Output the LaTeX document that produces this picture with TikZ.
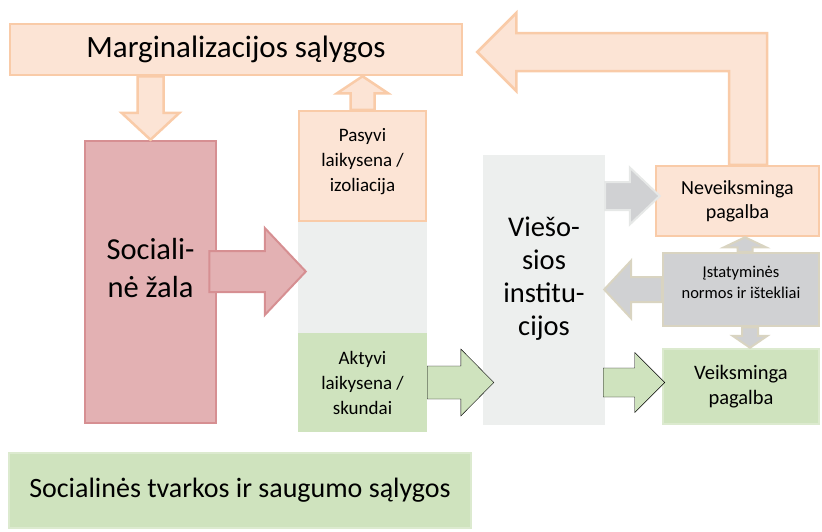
\documentclass[tikz,border=0pt]{standalone}
\usepackage{fontspec}
\setmainfont{Carlito}
\usetikzlibrary{calc}

\definecolor{peachfill}{HTML}{FCE4D5}
\definecolor{peachline}{HTML}{F9CBA8}
\definecolor{pinkfill}{HTML}{E3B1B3}
\definecolor{pinkline}{HTML}{D68F92}
\definecolor{greenfill}{HTML}{CFE3BE}
\definecolor{greenline}{HTML}{DCEACF}
\definecolor{midgrey}{HTML}{EDEFEE}
\definecolor{darkgrey}{HTML}{D0D1D3}
\definecolor{greyline}{HTML}{E6E8E7}
\definecolor{tanline}{HTML}{D9D4C1}

\tikzset{
    shaftw/.store in=\shaftw, headw/.store in=\headw, headl/.store in=\headl,
    shaftw=10pt, headw=20pt, headl=15pt,
    blockarrow/.style={to path={
        let \p1=(\tikztostart), \p2=(\tikztotarget),
            \n1={atan2(\y2-\y1,\x2-\x1)}, \n2={veclen(\x2-\x1,\y2-\y1)-\headl},
            \n3={\n1+90}, \n4={\n1-90} in
        ($(\p1)+(\n3:\shaftw)$) -- ($(\p1)+(\n1:\n2)+(\n3:\shaftw)$)
        -- ($(\p1)+(\n1:\n2)+(\n3:\headw)$) -- (\p2)
        -- ($(\p1)+(\n1:\n2)+(\n4:\headw)$) -- ($(\p1)+(\n1:\n2)+(\n4:\shaftw)$)
        -- ($(\p1)+(\n4:\shaftw)$) -- cycle}}
}

\begin{document}
\begin{tikzpicture}[x=1pt, y=-1pt,
    box/.style={rectangle, inner sep=0pt, align=center},
    peachbox/.style={box, fill=peachfill, draw=peachline, line width=2.5pt},
    pinkbox/.style={box, fill=pinkfill, draw=pinkline, line width=2.5pt},
    greenbox/.style={box, fill=greenfill},
    greybox/.style={box, fill=midgrey},
    tanbox/.style={box, fill=darkgrey, draw=tanline, line width=2.5pt},
    peacharrow/.style={blockarrow, fill=peachfill, draw=peachline, line width=2.5pt},
    pinkarrow/.style={blockarrow, fill=pinkfill, draw=pinkline, line width=2pt},
    greenarrow/.style={blockarrow, fill=greenfill},
    greyarrow/.style={blockarrow, fill=darkgrey, draw=greyline, line width=2pt},
    tanarrow/.style={blockarrow, fill=darkgrey, draw=tanline, line width=2pt},
    bigtext/.style={align=center, font=\fontsize{30.5}{38}\selectfont},
    smalltext/.style={align=center, font=\fontsize{19}{25}\selectfont}]
    \useasboundingbox (0,0) rectangle (822,531);

    \node[greybox, minimum width=129, minimum height=111] (mid) at (362.5,277.5) {};
    \node[peachbox, minimum width=452, minimum height=51, font=\fontsize{31}{36}\selectfont] (marg) at (236,49.5) {Marginalizacijos sąlygos};
    \node[pinkbox, minimum width=131, minimum height=282,
        label={[bigtext, yshift=14pt, name=soctext]center:{Sociali-\\nė žala}}] (soc) at (150.5,282) {};
    \node[peachbox, minimum width=127, minimum height=110,
        label={[smalltext, yshift=4pt, name=pastext]center:{Pasyvi\\laikysena /\\izoliacija}}] (pas) at (362.5,166) {};
    \node[greenbox, smalltext, minimum width=129, minimum height=99] (akt) at (362.5,382.5) {Aktyvi\\laikysena /\\skundai};
    \node[greybox, minimum width=122, minimum height=270,
        label={[bigtext, font=\fontsize{28.5}{33}\selectfont, yshift=11.5pt, name=viestext]center:{Viešo-\\sios\\institu-\\cijos}}] (vies) at (544,290) {};
    \node[peachbox, font=\fontsize{20}{24}\selectfont, minimum width=163, minimum height=70] (nev) at (737.5,201) {Neveiksminga\\pagalba};
    \node[tanbox, minimum width=156, minimum height=73,
        label={[align=center, font=\fontsize{16.5}{21}\selectfont, yshift=7pt, name=isttext]center:{Įstatyminės\\normos ir ištekliai}}] (ist) at (741,289.5) {};
    \node[greenbox, draw=greenline, line width=2.5pt, font=\fontsize{20.5}{25}\selectfont, minimum width=156, minimum height=75] (veik) at (741,386.5) {Veiksminga\\pagalba};
    \node[greenbox, draw=greenline, line width=2.5pt, font=\fontsize{28}{32}\selectfont, minimum width=462, minimum height=75] (soctv) at (240,490.5) {Socialinės tvarkos ir saugumo sąlygos};

    \coordinate (zs) at ($(soc.east)+(-8,-10.5)$);
    \coordinate (lt) at ($(marg.east)+(14,2.5)$);

    \draw[peacharrow, shaftw=13pt, headw=29pt, headl=27pt] (soc.north |- marg.south) to (soc.north);
    \draw[pinkarrow, shaftw=20.5pt, headw=43.5pt, headl=41pt] (zs) to ($(mid.west |- zs)+(8,0)$);
    \draw[peacharrow, shaftw=12pt, headw=25.5pt, headl=17pt] (pas.north) to (pas.north |- marg.south);
    \draw[greenarrow, shaftw=16.5pt, headw=33.5pt, headl=33pt] (akt.east) to ($(vies.west |- akt.east)+(11,0)$);
    \draw[greyarrow, shaftw=14pt, headw=28.5pt, headl=30pt] ($(vies.east |- nev.west)+(0,-5)$) to ($(nev.west)+(5,-5)$);
    \draw[tanarrow, shaftw=12.5pt, headw=29pt, headl=27pt] (ist.west) to ($(vies.east |- ist.west)+(-1,0)$);
    \draw[tanarrow, shaftw=7.5pt, headw=21pt, headl=10pt] ($(ist.north)+(4,0)$) to ($(nev.south -| ist.north)+(4,0)$);
    \draw[tanarrow, shaftw=8pt, headw=17.5pt, headl=12pt] ($(ist.south)+(9,0)$) to ($(veik.north -| ist.south)+(9,0)$);
    \draw[greenarrow, shaftw=14.5pt, headw=30pt, headl=30pt] ($(vies.east |- veik.west)+(-2,-4)$) to ($(veik.west)+(3,-4)$);
    \draw[peacharrow] ($(nev.north)+(-8.5,0)$) |- ($(lt)+(39,19)$) -- ++(0,20) -- (lt)
        -- ++(39,-39) -- ++(0,20) -| ($(nev.north)+(29.5,0)$) -- cycle;
\end{tikzpicture}
\end{document}
